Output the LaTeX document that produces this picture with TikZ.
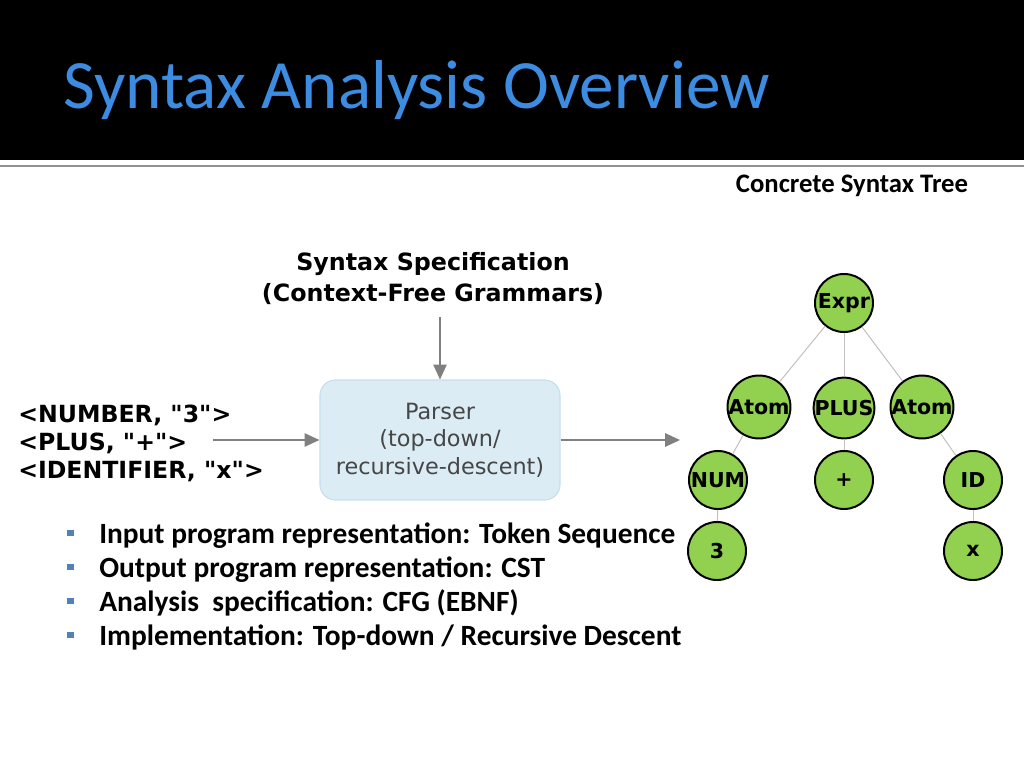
\documentclass[tikz,border=0pt]{standalone}
\usepackage{fontspec}
\setmainfont{Carlito}
\newfontfamily\dejavu{DejaVu Sans}
\usetikzlibrary{arrows.meta}
\definecolor{titleblue}{RGB}{60,140,226}
\definecolor{bulletblue}{RGB}{79,129,189}
\definecolor{parserfill}{RGB}{219,236,244}
\definecolor{parserdraw}{RGB}{198,223,235}
\definecolor{parsertext}{RGB}{70,70,70}
\definecolor{flowgray}{RGB}{128,128,128}
\definecolor{leafgreen}{RGB}{146,208,80}
\definecolor{edgegray}{RGB}{192,192,192}
\definecolor{rulegray}{RGB}{145,145,145}

\begin{document}
\begin{tikzpicture}[x=0.025cm,y=-0.025cm,
  tok/.style={inner sep=0,align=left,font=\dejavu\bfseries\fontsize{16.8}{19.9}\selectfont},
  flow/.style={draw=flowgray,line width=1pt,-{Triangle[length=10.5pt,width=9.5pt]}},
  tn/.style={circle,draw=black,line width=1.4pt,fill=leafgreen,minimum size=1.45cm,inner sep=0,font=\dejavu\bfseries\fontsize{14.6}{16}\selectfont},
  te/.style={draw=edgegray,line width=0.7pt},
  bul/.style={anchor=base west,inner sep=0,font=\bfseries\fontsize{20.9}{24}\selectfont},
  sq/.style={fill=bulletblue,minimum size=4.3pt,inner sep=0}]
  \useasboundingbox (0,0) rectangle (1024,768);
  \fill[black] (0,0) rectangle (1024,160);
  \draw[rulegray,line width=1.5pt] (0,166) -- (1024,166);
  \node[anchor=base west,inner sep=0,text=titleblue,font=\fontsize{49.2}{54}\selectfont] (title) at (63,109) {Syntax Analysis Overview};
  \node[font=\bfseries\fontsize{19}{22}\selectfont] (csttitle) at (852,186) {Concrete Syntax Tree};

  \node[tok,anchor=west] (tokens) at (18,443) {<NUMBER, "3">\\<PLUS, "+">\\<IDENTIFIER, "x">};
  \node[tok,align=center,font=\dejavu\bfseries\fontsize{16.9}{22}\selectfont] (spec) at (433,279) {Syntax Specification\\(Context-Free Grammars)};
  \node[draw=parserdraw,fill=parserfill,line width=0.8pt,rounded corners=11pt,minimum width=6cm,minimum height=3cm,align=center,text=parsertext,font=\dejavu\fontsize{15.9}{19.6}\selectfont] (parser) at (440,440) {Parser\\(top-down/\\recursive-descent)};
  \coordinate (tokout) at (213,440);
  \coordinate (specout) at (440,317);
  \coordinate (cstin) at (680,440);
  \draw[flow] (tokout) -- (parser.west);
  \draw[flow] (specout) -- (parser.north);
  \draw[flow] (parser.east) -- (cstin);

  \node[tn] (expr) at (844,303) {Expr};
  \node[tn] (atoml) at (759,407) {Atom};
  \node[tn] (plus) at (844,408) {PLUS};
  \node[tn] (atomr) at (922,407) {Atom};
  \node[tn] (num) at (718,480) {NUM};
  \node[tn] (plussym) at (844,480) {+};
  \node[tn] (id) at (973,480) {ID};
  \node[tn] (three) at (717,551) {3};
  \node[tn] (xval) at (973,551) {x};
  \draw[te] (expr) -- (atoml);
  \draw[te] (expr) -- (plus);
  \draw[te] (expr) -- (atomr);
  \draw[te] (atoml) -- (num);
  \draw[te] (plus) -- (plussym);
  \draw[te] (atomr) -- (id);
  \draw[te] (num) -- (three);
  \draw[te] (id) -- (xval);

  \node[sq] (b1) at (70.5,533) {};
  \node[sq] (b2) at (70.5,567) {};
  \node[sq] (b3) at (70.5,601) {};
  \node[sq] (b4) at (70.5,635) {};
  \node[bul] (t1) at (99,543) {Input program representation: Token Sequence};
  \node[bul] (t2) at (99,577) {Output program representation: CST};
  \node[bul] (t3) at (99,611) {Analysis\ \ specification: CFG (EBNF)};
  \node[bul] (t4) at (99,645) {Implementation: Top-down / Recursive Descent};
\end{tikzpicture}
\end{document}
